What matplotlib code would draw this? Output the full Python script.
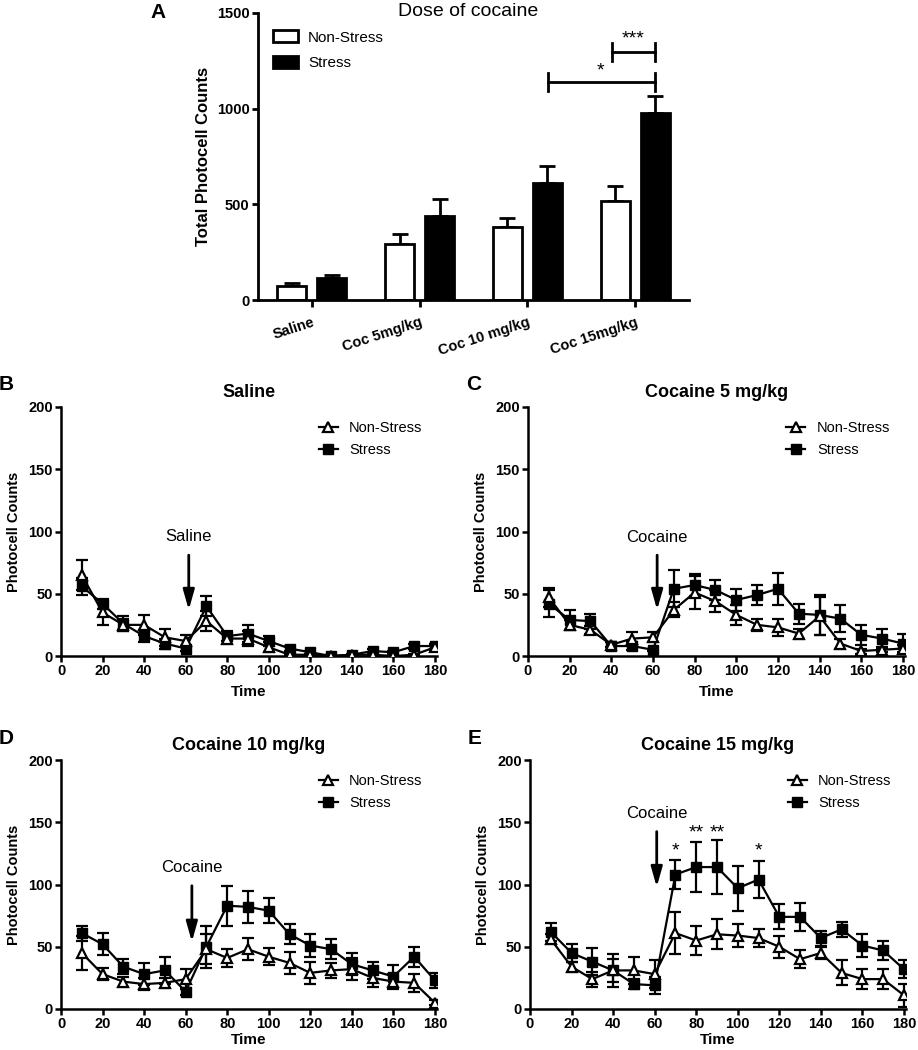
import matplotlib
matplotlib.use("Agg")
import matplotlib.pyplot as plt
from matplotlib.patches import Patch
from matplotlib.lines import Line2D

plt.rcParams['font.family'] = ['Liberation Sans', 'DejaVu Sans']

W, H = 918, 1050

# ---- panel A data ----
doses = ['Saline', 'Coc 5mg/kg', 'Coc 10 mg/kg', 'Coc 15mg/kg']
tot_ns = [71, 295, 379, 518]
tot_ns_err = [18, 50, 52, 79]
tot_s = [115, 440, 614, 978]
tot_s_err = [17, 90, 87, 89]

# ---- time course data ----
times = [10, 20, 30, 40, 50, 60, 70, 80, 90, 100, 110, 120, 130, 140, 150, 160, 170, 180]

sal_ns = [65, 35, 25, 25, 15, 12, 28, 14, 14, 7, 1, 1, 0, 1, 1, 0, 1, 7]
sal_ns_err = [12, 10, 5, 8, 7, 5, 8, 4, 6, 4, 1, 1, 1, 1, 1, 1, 1, 2]
sal_s = [56, 42, 26, 16, 10, 6, 40, 16, 18, 12, 6, 3, 0, 1, 4, 3, 8, 8]
sal_s_err = [7, 4, 6, 5, 4, 2, 8, 4, 7, 4, 2, 1, 1, 1, 2, 1, 2, 2]

c5_ns = [47, 25, 21, 9, 14, 15, 37, 51, 44, 33, 25, 23, 18, 32, 10, 4, 5, 6]
c5_ns_err = [8, 4, 3, 2, 5, 4, 6, 13, 9, 8, 5, 7, 4, 15, 4, 2, 2, 3]
c5_s = [42, 29, 28, 8, 8, 5, 54, 57, 53, 45, 49, 54, 34, 33, 30, 17, 14, 10]
c5_s_err = [11, 8, 6, 3, 3, 1, 15, 9, 8, 9, 8, 13, 8, 16, 11, 8, 8, 8]

c10_ns = [45, 28, 22, 20, 21, 24, 48, 41, 48, 42, 37, 29, 31, 32, 25, 22, 21, 5]
c10_ns_err = [14, 5, 4, 5, 4, 8, 12, 7, 9, 7, 9, 9, 6, 9, 7, 6, 7, 2]
c10_s = [61, 52, 34, 28, 31, 14, 50, 83, 82, 79, 60, 51, 48, 36, 31, 26, 42, 23]
c10_s_err = [6, 9, 6, 9, 11, 3, 17, 16, 13, 10, 8, 9, 8, 9, 7, 9, 8, 6]

c15_ns = [56, 34, 24, 31, 31, 28, 61, 55, 60, 59, 57, 50, 40, 45, 29, 24, 24, 11]
c15_ns_err = [4, 4, 6, 9, 11, 11, 17, 12, 12, 9, 7, 9, 7, 5, 10, 8, 8, 9]
c15_s = [62, 45, 38, 31, 20, 19, 108, 114, 114, 97, 104, 74, 74, 57, 64, 51, 47, 32]
c15_s_err = [7, 7, 11, 13, 4, 7, 12, 20, 22, 18, 15, 10, 11, 6, 6, 9, 8, 7]


def rect(l, r, t, b):
    return [l / W, 1 - b / H, (r - l) / W, (b - t) / H]


def style_ax(ax, lw=1.8, size=10.5):
    ax.spines['top'].set_visible(False)
    ax.spines['right'].set_visible(False)
    ax.spines['left'].set_linewidth(lw)
    ax.spines['bottom'].set_linewidth(lw)
    ax.tick_params(width=lw, length=4, labelsize=size, pad=2)
    for lab in ax.get_xticklabels() + ax.get_yticklabels():
        lab.set_fontweight('bold')


fig = plt.figure(figsize=(W / 100, H / 100), dpi=100)

# ================= Panel A =================
axA = fig.add_axes(rect(258, 689, 13, 300))
idx = list(range(len(doses)))
off, bw = 0.186, 0.27
axA.bar([i - off for i in idx], tot_ns, bw, color='white', edgecolor='black',
        linewidth=2, zorder=2)
axA.bar([i + off for i in idx], tot_s, bw, color='black', edgecolor='black',
        linewidth=2, zorder=2)
axA.errorbar([i - off for i in idx], tot_ns, yerr=[[0] * 4, tot_ns_err], fmt='none',
             ecolor='black', elinewidth=2, capsize=6, capthick=2, zorder=1)
axA.errorbar([i + off for i in idx], tot_s, yerr=[[0] * 4, tot_s_err], fmt='none',
             ecolor='black', elinewidth=2, capsize=6, capthick=2, zorder=1)
axA.set_xlim(-0.5, 3.5)
axA.set_ylim(0, 1500)
axA.set_yticks([0, 500, 1000, 1500])
axA.set_xticks(idx)
axA.set_xticklabels(doses, rotation=18, ha='right', va='top', rotation_mode='anchor')
style_ax(axA, 2, 10.5)
axA.tick_params(axis='x', length=5, pad=6)
axA.set_ylabel('Total Photocell Counts', fontsize=12, fontweight='bold', labelpad=4)
fig.text(468 / W, 1 - 11 / H, 'Dose of cocaine', fontsize=14, ha='center', va='center')

# significance brackets
for x0, x1, yb, ytxt, xt, lab in [(2.786, 3.185, 1296, 1362, 2.98, '***'),
                                  (2.19, 3.185, 1139, 1195, 2.674, '*')]:
    axA.plot([x0, x1], [yb, yb], color='black', lw=2, clip_on=False)
    axA.plot([x0, x0], [yb - 47, yb + 47], color='black', lw=2, clip_on=False)
    axA.plot([x1, x1], [yb - 47, yb + 47], color='black', lw=2, clip_on=False)
    axA.text(xt, ytxt, lab, ha='center', va='center', fontsize=14)

handles = [Patch(facecolor='white', edgecolor='black', linewidth=2, label='Non-Stress'),
           Patch(facecolor='black', edgecolor='black', linewidth=2, label='Stress')]
axA.legend(handles=handles, loc='upper left', bbox_to_anchor=(0.035, 0.94),
           borderaxespad=0, borderpad=0, frameon=False, fontsize=11,
           handlelength=1.6, handleheight=0.85, labelspacing=0.75, handletextpad=0.7)
fig.text(150 / W, 1 - 12 / H, 'A', fontsize=15, fontweight='bold', va='center')

# ================= Time course panels =================
panels = [
    ('B', 'Saline', 'Saline', sal_ns, sal_ns_err, sal_s, sal_s_err,
     (61, 437, 407, 656), (61.5, 95.6, 81, 37)),
    ('C', 'Cocaine 5 mg/kg', 'Cocaine', c5_ns, c5_ns_err, c5_s, c5_s_err,
     (528, 905, 407, 656), (62, 95, 81, 37)),
    ('D', 'Cocaine 10 mg/kg', 'Cocaine', c10_ns, c10_ns_err, c10_s, c10_s_err,
     (61, 437, 760, 1009), (63, 113.6, 99, 54)),
    ('E', 'Cocaine 15 mg/kg', 'Cocaine', c15_ns, c15_ns_err, c15_s, c15_s_err,
     (530, 906, 760, 1009), (61, 157, 142.5, 98)),
]

for letter, title, drug, ns, ns_err, s, s_err, box, arr in panels:
    l, r, t, b = box
    ax = fig.add_axes(rect(l, r, t, b))
    ax.errorbar(times, s, yerr=s_err, color='black', lw=1.6, marker='s', ms=7,
                mfc='black', mec='black', elinewidth=1.6, capsize=4, capthick=1.6,
                label='Stress', zorder=3)
    ax.errorbar(times, ns, yerr=ns_err, color='black', lw=1.6, marker='^', ms=7.5,
                mfc='white', mec='black', mew=1.6, elinewidth=1.6, capsize=4,
                capthick=1.6, label='Non-Stress', zorder=4)
    ax.set_xlim(0, 181)
    ax.set_ylim(0, 200)
    ax.set_xticks([0, 20, 40, 60, 80, 100, 120, 140, 160, 180])
    ax.set_yticks([0, 50, 100, 150, 200])
    style_ax(ax, 1.8, 10.5)
    ax.set_ylabel('Photocell Counts', fontsize=10.5, fontweight='bold', labelpad=5)
    ax.set_xlabel('Time', fontsize=11, fontweight='bold',
                  labelpad=1 if letter in 'DE' else 5)
    ax.set_title(title, fontsize=13, fontweight='bold', pad=7)
    leg_h = [Line2D([0], [0], color='black', lw=1.6, marker='^', ms=7.5, mfc='white',
                    mec='black', mew=1.6, label='Non-Stress'),
             Line2D([0], [0], color='black', lw=1.6, marker='s', ms=7, mfc='black',
                    label='Stress')]
    ax.legend(handles=leg_h, loc='upper left', bbox_to_anchor=(0.685, 0.945),
              borderaxespad=0, borderpad=0, frameon=False, fontsize=10.5,
              handlelength=1.3, labelspacing=0.55, handletextpad=0.8)
    ax_x, tx_y, a_top, a_bot = arr
    ax.text(ax_x, tx_y, drug, ha='center', va='center', fontsize=12)
    ax.annotate('', xy=(ax_x, a_bot), xytext=(ax_x, a_top),
                arrowprops=dict(arrowstyle='-|>,head_width=0.17,head_length=0.6',
                                mutation_scale=20, color='black', lw=2,
                                shrinkA=0, shrinkB=0))
    fig.text((l - 62) / W, 1 - (t - 22) / H, letter, fontsize=15, fontweight='bold',
             va='center')
    if letter == 'E':
        for xs, ys, lab in [(70, 127, '*'), (80, 141, '**'), (90, 141, '**'), (110, 127, '*')]:
            ax.text(xs, ys, lab, ha='center', va='center', fontsize=14)

fig.savefig('out.png', dpi=100)
